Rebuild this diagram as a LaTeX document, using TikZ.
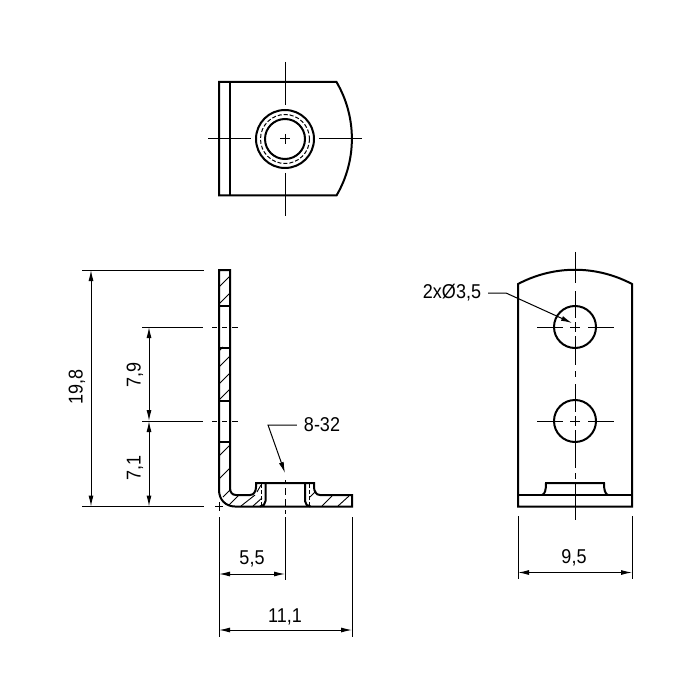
\documentclass[tikz,border=0pt]{standalone}
\usepackage{fontspec}
\setmainfont[FakeStretch=0.9]{Liberation Sans}
\usetikzlibrary{arrows.meta}
\tikzset{
  contour/.style={line width=2pt},
  thinline/.style={line width=1pt},
  hatchline/.style={line width=0.9pt},
  hidden/.style={line width=1pt, dash pattern=on 4pt off 2pt},
  dimline/.style={line width=1pt, {Latex[length=11pt,width=5pt]}-{Latex[length=11pt,width=5pt]}},
  leader/.style={line width=1pt, -{Latex[length=11pt,width=5pt]}},
  dimtext/.style={font=\fontsize{20}{20}\selectfont, inner sep=0pt}
}

\begin{document}
\begin{tikzpicture}[x=1pt, y=-1pt]
  \useasboundingbox (0,0) rectangle (700,700);

  % Top view
  \draw[contour] (336.5,82) -- (219,82) -- (219,195.5) -- (336.5,195.5)
    .. controls (357,160.5) and (357,117) .. cycle;
  \draw[contour] (230,82) -- (230,195.5);
  \draw[contour] (285,139) circle (29);
  \draw[contour] (285,139) circle (20);
  \draw[hidden] (285,139) circle (24.5);
  \draw[thinline] (208,139) -- (251,139);
  \draw[thinline] (319,139) -- (362,139);
  \draw[thinline] (280,139) -- (290,139);
  \draw[thinline] (285,62) -- (285,105);
  \draw[thinline] (285,173) -- (285,216);
  \draw[thinline] (285,134) -- (285,144);

  % Side view
  \draw[contour] (230,488) -- (230,270) -- (219,270) -- (219,490)
    .. controls (219,500) and (226,506.5) .. (235,506.5)
    -- (352,506.5) -- (352,495) -- (320,495)
    .. controls (316,495) and (314,491) .. (314,487)
    -- (314,483) -- (256,483) -- (256,487)
    .. controls (256,491) and (254,495) .. (250,495)
    -- (236,495) .. controls (232,495) and (230,492) .. (230,488);
  \draw[contour] (219,306) -- (230,306);
  \draw[contour] (219,348) -- (230,348);
  \draw[contour] (219,401) -- (230,401);
  \draw[contour] (219,442) -- (230,442);
  \draw[contour] (265.5,483) -- (265.5,501)
    .. controls (265.5,504) and (263,506.5) .. (260,506.5);
  \draw[contour] (305,483) -- (305,501)
    .. controls (305,504) and (307.5,506.5) .. (310.5,506.5);
  \draw[hidden] (261,484) -- (261,505);
  \draw[hidden] (309.5,484) -- (309.5,505);

  % Hatching
  \draw[hatchline] (219,287) -- (230,276);
  \draw[hatchline] (219,304) -- (230,293);
  \draw[hatchline] (219,351) -- (223,347);
  \draw[hatchline] (219,367) -- (230,356);
  \draw[hatchline] (219,384) -- (230,373);
  \draw[hatchline] (219,400) -- (230,389);
  \draw[hatchline] (219,456) -- (230,445);
  \draw[hatchline] (219,479) -- (230,468);
  \draw[hatchline] (223,497) -- (231,489);
  \draw[hatchline] (229,505) -- (239,495);
  \draw[hatchline] (241,506) -- (255,495);
  \draw[hatchline] (253,506) -- (262,498);
  \draw[hatchline] (257,492) -- (261,485);
  \draw[hatchline] (310,497) -- (316,491);
  \draw[hatchline] (322,506) -- (332,496);
  \draw[hatchline] (338,506) -- (349,496);

  % Centre lines of the side view
  \draw[thinline] (212,327) -- (217,327);
  \draw[thinline] (222,327) -- (227,327);
  \draw[thinline] (232,327) -- (238,327);
  \draw[thinline] (212,421) -- (217,421);
  \draw[thinline] (222,421) -- (227,421);
  \draw[thinline] (232,421) -- (238,421);
  \draw[thinline] (215,506.5) -- (223,506.5);
  \draw[thinline] (219,502) -- (219,511);
  \draw[thinline] (285,480) -- (285,484);
  \draw[thinline] (285,488) -- (285,495);
  \draw[thinline] (285,499) -- (285,507);
  \draw[thinline] (285,510) -- (285,514);

  % Height dimensions
  \draw[thinline] (82,270) -- (204,270);
  \draw[thinline] (82,506.5) -- (204,506.5);
  \draw[thinline] (142,327) -- (203,327);
  \draw[thinline] (142,421) -- (203,421);
  \draw[dimline] (91,270) -- (91,506.5);
  \draw[dimline] (149,327) -- (149,421);
  \draw[dimline] (149,421) -- (149,506.5);
  \node[dimtext, rotate=90] (height) at (77,387) {19,8};
  \node[dimtext, rotate=90] (upper) at (135,375) {7,9};
  \node[dimtext, rotate=90] (lower) at (135,468) {7,1};

  % Width dimensions
  \draw[thinline] (219,517) -- (219,637);
  \draw[thinline] (285,517) -- (285,580);
  \draw[thinline] (352,517) -- (352,637);
  \draw[dimline] (219,574) -- (285,574);
  \draw[dimline] (219,630) -- (352,630);
  \node[dimtext] (hole) at (252,559) {5,5};
  \node[dimtext] (length) at (285,617) {11,1};

  % Thread note
  \node[dimtext] (thread) at (322,425) {8-32};
  \coordinate (threadbend) at (268,425);
  \coordinate (threadtip) at (285,473);
  \draw[leader] (thread.west) ++(-7,0) -- (threadbend) -- (threadtip);

  % Front view
  \draw[contour] (518,284) .. controls (554,265) and (596,265) .. (632,284)
    -- (632,506.5) -- (518,506.5) -- cycle;
  \draw[contour] (518,495) -- (632,495);
  \draw[contour] (542,495) .. controls (545,494) and (546,490) .. (546,483)
    -- (604,483) .. controls (604,490) and (605,494) .. (608,495);
  \draw[contour] (575,327) circle (21);
  \draw[contour] (575,421) circle (21);

  % Centre lines of the front view
  \draw[thinline] (575,252) -- (575,283);
  \draw[thinline] (575,291) -- (575,318);
  \draw[thinline] (575,322) -- (575,332);
  \draw[thinline] (575,336) -- (575,365);
  \draw[thinline] (575,371) -- (575,377);
  \draw[thinline] (575,384) -- (575,412);
  \draw[thinline] (575,416) -- (575,426);
  \draw[thinline] (575,430) -- (575,468);
  \draw[thinline] (575,473) -- (575,479);
  \draw[thinline] (575,484) -- (575,520);
  \draw[thinline] (537,327) -- (563,327);
  \draw[thinline] (570,327) -- (580,327);
  \draw[thinline] (588,327) -- (614,327);
  \draw[thinline] (537,421) -- (563,421);
  \draw[thinline] (570,421) -- (580,421);
  \draw[thinline] (588,421) -- (614,421);

  % Hole note and width
  \node[dimtext] (holes) at (452,293) {2xØ3,5};
  \coordinate (holesbend) at (506,293);
  \coordinate (holestip) at (572,323);
  \draw[leader] (holes.east) ++(7,0) -- (holesbend) -- (holestip);
  \draw[thinline] (518,516) -- (518,579);
  \draw[thinline] (632,516) -- (632,579);
  \draw[dimline] (518,572.5) -- (632,572.5);
  \node[dimtext] (width) at (574,558) {9,5};
\end{tikzpicture}
\end{document}
